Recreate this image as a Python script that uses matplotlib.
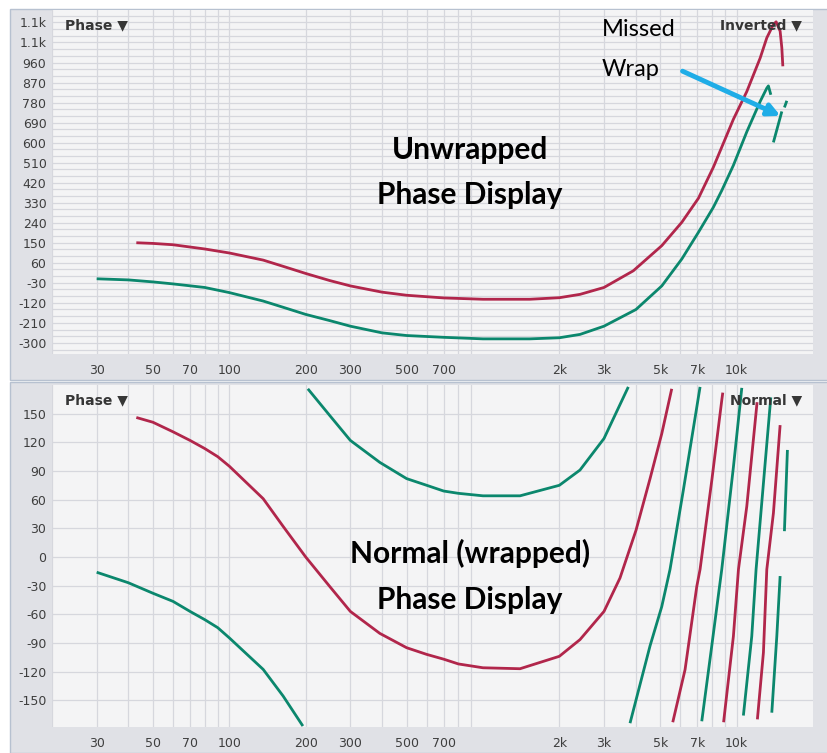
import numpy as np
import matplotlib
matplotlib.use("Agg")
import matplotlib.pyplot as plt
from matplotlib.patches import Rectangle, FancyArrowPatch
from matplotlib.ticker import NullFormatter

nan = np.nan

# ---------------- data ----------------
# Top panel: unwrapped phase (degrees) vs frequency (Hz)
top_red_freq = [43, 50, 60, 80, 100, 136, 163, 200, 249, 300, 400, 500, 700, 1000, 1530,
                2000, 2413, 3000, 3915, 5070, 6080, 7070, 8100, 9710, 10970, 12380, 13150,
                13960, 14310, 14840, 15070, 15210]
top_red_phase = [150, 147, 141, 122, 104, 72, 44, 12, -20, -44, -72, -86, -98, -104, -104,
                 -97, -82, -51, 24, 137, 242, 350, 490, 705, 830, 980, 1071,
                 1131, 1143, 1101, 1026, 943]

top_green_freq = [30, 40, 50, 60, 80, 100, 136, 163, 200, 249, 300, 400, 500, 700, 1000, 1530,
                  2000, 2413, 3000, 4010, 5070, 6080, 7070, 8100, 8740, 9710, 10970, 12380,
                  13150, 13340, 13640, nan, 13960, 15070, nan, 15430, 15770]
top_green_phase = [-12, -17, -26, -35, -51, -74, -112, -140, -172, -200, -225, -255, -267, -275,
                   -282, -282, -277, -262, -225, -150, -44, 77, 197, 310, 385, 498, 649, 785,
                   845, 855, 815, nan, 601, 740, nan, 758, 788]

# Bottom panel: wrapped phase (degrees), NaN marks a wrap
bot_red_freq = [43, 50, 60, 70, 80, 90, 100, 136, 163, 200, 249, 300, 392, 500, 600, 700, 800,
                1000, 1400, 2000, 2413, 3000, 3469, 4012, 4557, 5067, 5548, nan,
                5600, 6261, 6963, 7175, 7980, 8737, 8818, nan,
                8883, 9710, 10167, 10965, 12040, nan,
                12073, 12752, 13150, 13964, 14840]
bot_red_phase = [146, 141, 131, 122, 113.5, 105, 95, 61, 32, 0, -31, -57, -80, -95, -102, -107, -112,
                 -116, -117, -104, -86.5, -57, -22, 28, 82, 129, 176, nan,
                 -173, -118, -31, -13, 80, 164, 172, nan,
                 -173, -83, -13, 53, 162, nan,
                 -170, -100, -13, 46, 138]

bot_green_freq = [30, 40, 50, 60, 70, 80, 90, 100, 136, 163, 195, nan,
                  204, 249, 300, 392, 500, 600, 700, 800, 1000, 1400, 2000, 2413, 3000, 3741, nan,
                  3799, 4557, 5067, 5463, 6165, 7175, nan,
                  7287, 7980, 8737, 9710, 10479, nan,
                  10632, 11472, 11930, 12952, 13637, nan,
                  13760, 14400, 14840, nan,
                  15430, 15857]
bot_green_phase = [-16, -27, -38, -46.5, -57, -65.6, -74, -84.7, -117.7, -145.6, -177, nan,
                   176, 148, 122, 99, 82, 75, 69, 66.6, 64, 64, 75, 91, 124, 178, nan,
                   -174, -93, -52, -13, 70, 178, nan,
                   -172, -93, -13, 94, 177, nan,
                   -166, -83, -13, 98, 167, nan,
                   -163, -83, -20, nan,
                   27, 112]

x_tick_values = [30, 50, 70, 100, 200, 300, 500, 700, 2000, 3000, 5000, 7000, 10000]
x_tick_labels = ["30", "50", "70", "100", "200", "300", "500", "700", "2k", "3k", "5k", "7k", "10k"]

top_y_ticks = [-300, -210, -120, -30, 60, 150, 240, 330, 420, 510, 600, 690, 780, 870, 960, 1050, 1140]
top_y_labels = ["-300", "-210", "-120", "-30", "60", "150", "240", "330", "420", "510", "600",
                "690", "780", "870", "960", "1.1k", "1.1k"]
bot_y_ticks = [-150, -120, -90, -60, -30, 0, 30, 60, 90, 120, 150]
bot_y_labels = ["-150", "-120", "-90", "-60", "-30", "0", "30", "60", "90", "120", "150"]

# ---------------- styling ----------------
RED = "#b1264b"
GREEN = "#0b876d"
PLOT_BG = "#f4f4f5"
PANEL_BG = "#e0e1e6"
GRID = "#d6d7dd"
TICK_COLOR = "#3e3e3e"

W, H = 828, 753
fig = plt.figure(figsize=(W / 100, H / 100), dpi=100)
fig.patch.set_facecolor("white")

def fx(px):
    return px / W

def fy(py):
    return 1 - py / H

# gray panels
for (y0, y1) in [(9, 380), (382, 753)]:
    fig.add_artist(Rectangle((fx(10), fy(y1)), fx(W - 10), (y1 - y0) / H,
                             transform=fig.transFigure, facecolor=PANEL_BG,
                             edgecolor="#b7c1d0", lw=1.0, zorder=-5))

grid_freqs = [m * 10 ** e for e in (1, 2, 3) for m in range(2, 10)] + [10000]

def style_axes(ax, ylim, yticks, ylabels, minor_y):
    ax.set_facecolor(PLOT_BG)
    ax.set_xscale("log")
    ax.set_xticks(x_tick_values)
    ax.set_xticklabels(x_tick_labels)
    ax.set_xticks(grid_freqs, minor=True)
    ax.xaxis.set_minor_formatter(NullFormatter())
    ax.set_yticks(yticks)
    ax.set_yticklabels(ylabels)
    ax.set_yticks(minor_y, minor=True)
    ax.set_xlim(20, 20000)
    ax.set_ylim(*ylim)
    ax.tick_params(which="both", length=0)
    ax.tick_params(axis="x", pad=7, labelsize=9, labelcolor=TICK_COLOR)
    ax.tick_params(axis="y", pad=4, labelsize=9, labelcolor=TICK_COLOR)
    ax.grid(which="both", color=GRID, lw=0.9)
    ax.set_axisbelow(True)
    for s in ax.spines.values():
        s.set_visible(False)

# top axes
ax1 = fig.add_axes([fx(52), fy(354), fx(761), 344 / H])
style_axes(ax1, (-350, 1196), top_y_ticks, top_y_labels, np.arange(-330, 1200, 30))
ax1.plot(top_red_freq, top_red_phase, color=RED, lw=2.0, solid_capstyle="butt")
ax1.plot(top_green_freq, top_green_phase, color=GREEN, lw=2.0, solid_capstyle="butt")

# bottom axes
ax2 = fig.add_axes([fx(52), fy(727), fx(761), 342 / H])
style_axes(ax2, (-178, 180), bot_y_ticks, bot_y_labels, [])
ax2.plot(bot_red_freq, bot_red_phase, color=RED, lw=2.0, solid_capstyle="butt")
ax2.plot(bot_green_freq, bot_green_phase, color=GREEN, lw=2.0, solid_capstyle="butt")

# header labels
hdr = dict(fontsize=10, fontweight="bold", color="#363636", family=["DejaVu Sans"])
fig.text(fx(65), fy(25), "Phase \u25BC", ha="left", va="center", **hdr)
fig.text(fx(802), fy(25), "Inverted \u25BC", ha="right", va="center", **hdr)
fig.text(fx(65), fy(400), "Phase \u25BC", ha="left", va="center", **hdr)
fig.text(fx(802), fy(400), "Normal \u25BC", ha="right", va="center", **hdr)

# annotations
big = dict(fontsize=21.5, fontweight="bold", color="black", family=["Lato", "DejaVu Sans"],
           ha="center", va="center")
fig.text(fx(470), fy(150), "Unwrapped", **big)
fig.text(fx(470), fy(195), "Phase Display", **big)
fig.text(fx(470), fy(553), "Normal (wrapped)", **big)
fig.text(fx(470), fy(600), "Phase Display", **big)

note = dict(fontsize=17, color="black", family=["Lato", "DejaVu Sans"], ha="left", va="center")
fig.text(fx(602), fy(29), "Missed", **note)
fig.text(fx(602), fy(69), "Wrap", **note)

fig.add_artist(FancyArrowPatch(
    (fx(680), fy(70)), (fx(783), fy(117)), transform=fig.transFigure,
    arrowstyle="-|>", mutation_scale=18, color="#1fade7", lw=3.5, zorder=10))

fig.savefig("out.png", dpi=100, facecolor="white")
